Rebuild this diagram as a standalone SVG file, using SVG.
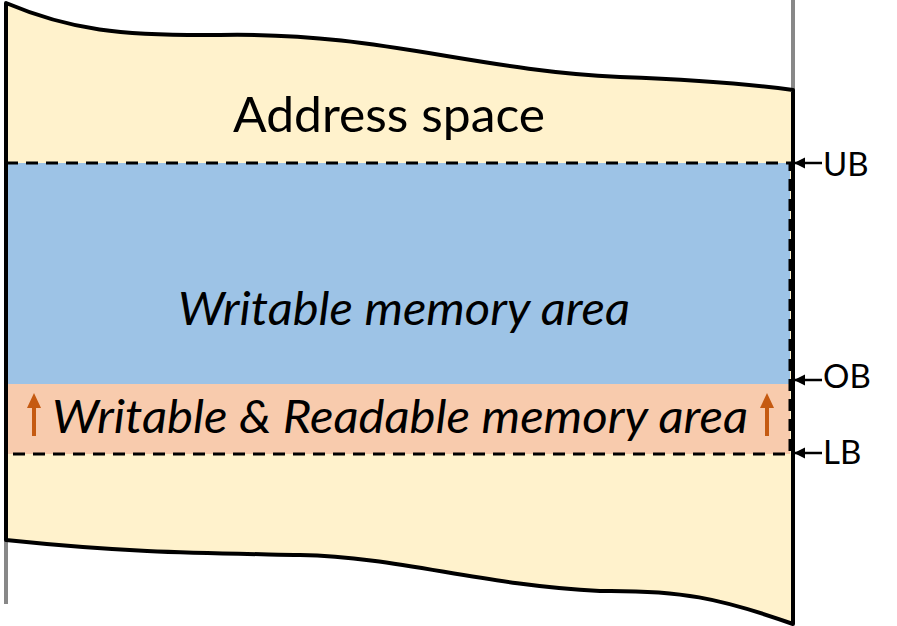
<svg xmlns="http://www.w3.org/2000/svg" width="897" height="626" viewBox="0 0 897 626">
<defs>
<style>
.edge{fill:none;stroke:#000;stroke-width:4;stroke-linejoin:round}
.gray{stroke:#888;stroke-width:4}
.dash{stroke:#000;stroke-width:3;stroke-dasharray:12 8;fill:none}
.lbl{font-family:Lato,"Open Sans",sans-serif;fill:#000}
.it{font-style:italic}
.up{stroke:#C55A11;stroke-width:4;fill:none}
.ptr{stroke:#000;stroke-width:2.5;fill:none}
</style>
<marker id="ah" viewBox="0 0 10 10" refX="9" refY="5" markerWidth="4.5" markerHeight="4.5" orient="auto" markerUnits="strokeWidth"><path d="M0,0 L10,5 L0,10 z" fill="#000"/></marker>
</defs>
<g id="address-space">
<path d="M6,3 C70,30 120,36 220,35 C380,32 470,70 620,77 C700,80 750,84 793,90 L793,624 C720,598 680,590 600,591 C480,585 400,557 300,555 C200,553 130,553 6,540 Z" fill="#FFF2CC"/>
<line class="gray" x1="793" y1="0" x2="793" y2="90"/>
<line class="gray" x1="6" y1="540" x2="6" y2="604"/>
<text class="lbl" x="233" y="132" font-size="49" textLength="312" lengthAdjust="spacingAndGlyphs">Address space</text>
</g>
<g id="writable">
<rect x="6" y="163" width="784" height="221" fill="#9DC3E6"/>
<text class="lbl it" x="178" y="325" font-size="46" textLength="452" lengthAdjust="spacingAndGlyphs">Writable memory area</text>
</g>
<g id="readable">
<rect x="6" y="384" width="784" height="70" fill="#F8CBAD"/>
<text class="lbl it" x="52" y="433" font-size="46" textLength="696" lengthAdjust="spacingAndGlyphs">Writable &amp; Readable memory area</text>
<g fill="#C55A11">
<line class="up" x1="34" y1="436" x2="34" y2="405"/>
<path d="M27,408 L34,393 L41,408 Z"/>
<line class="up" x1="767" y1="436" x2="767" y2="405"/>
<path d="M760,408 L767,393 L774,408 Z"/>
</g>
</g>
<g id="bounds">
<path class="dash" d="M6,163 H790 V454 H6"/>
<path class="edge" d="M6,3 C70,30 120,36 220,35 C380,32 470,70 620,77 C700,80 750,84 793,90 L793,624 C720,598 680,590 600,591 C480,585 400,557 300,555 C200,553 130,553 6,540 Z"/>
<text class="lbl" x="823" y="176" font-size="33">UB</text>
<text class="lbl" x="823" y="388" font-size="33">OB</text>
<text class="lbl" x="823" y="464" font-size="33">LB</text>
</g>
<g id="connectors">
<line class="ptr" x1="822" y1="163" x2="795" y2="163" marker-end="url(#ah)"/>
<line class="ptr" x1="822" y1="380" x2="795" y2="380" marker-end="url(#ah)"/>
<line class="ptr" x1="822" y1="453" x2="795" y2="453" marker-end="url(#ah)"/>
</g>
</svg>
